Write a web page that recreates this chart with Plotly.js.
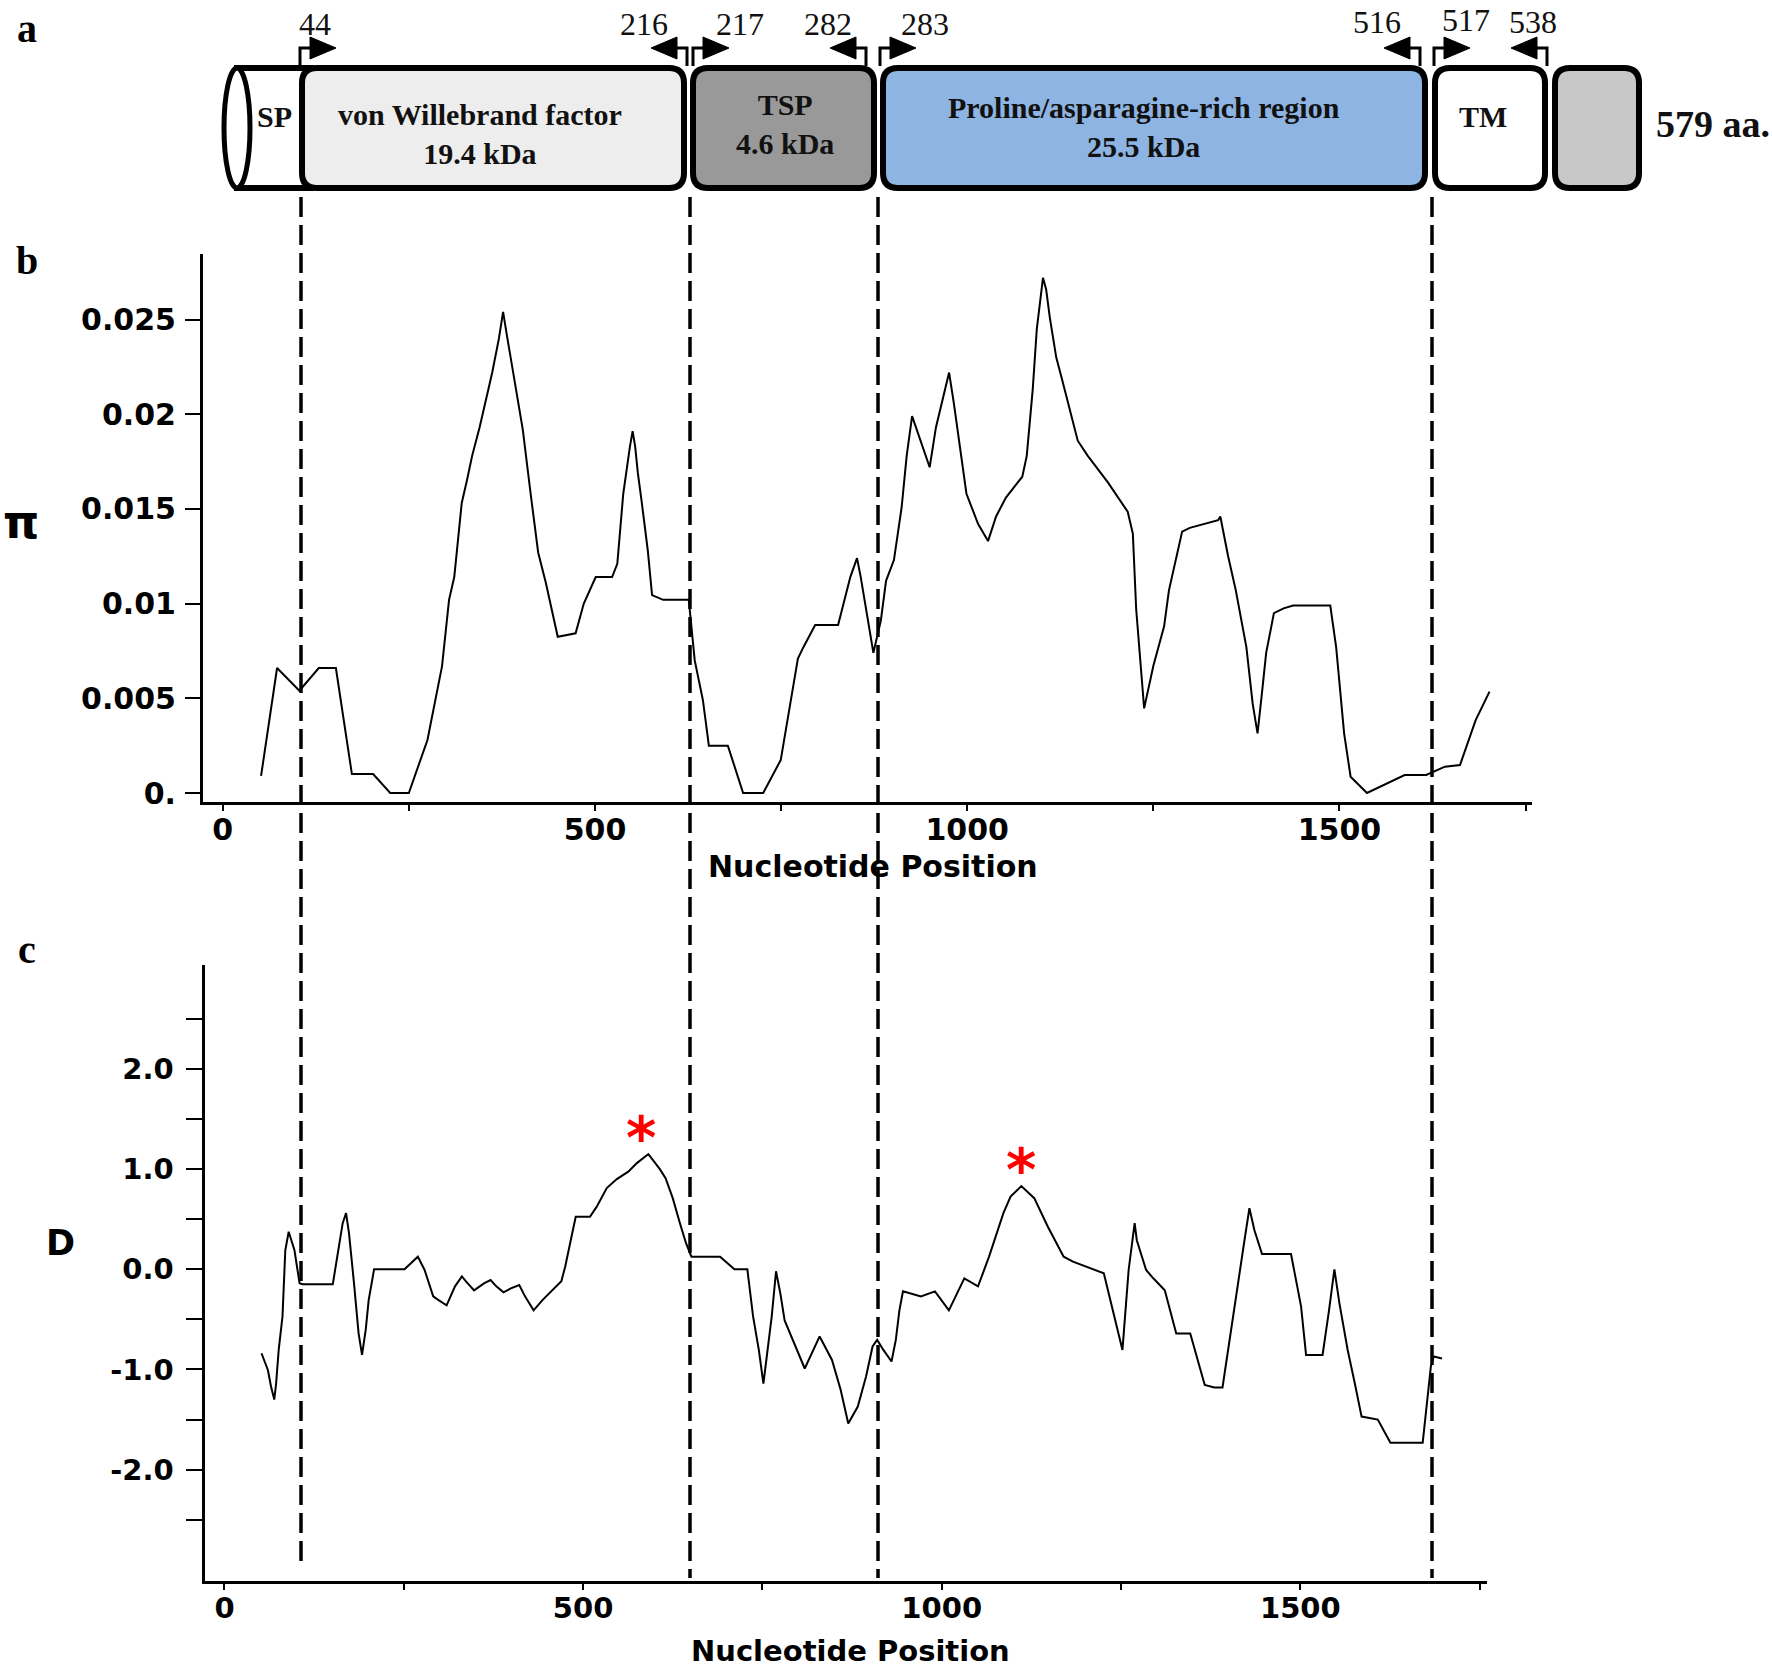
<!DOCTYPE html>
<html><head><meta charset="utf-8">
<script src="https://cdn.plot.ly/plotly-3.0.1.min.js"></script>
<style>html,body{margin:0;padding:0;background:#fff;} #chart{width:1772px;height:1670px;}</style>
</head><body><div id="chart"></div>
<script>
// ---------------- DATA ----------------
const piPosition = [51.5,73,103,129,152,173.5,202,225,250,275,294.6,304,311,321,328,335,345,362,371,376.6,382,390,403,413.6,423.7,434,450,474,485,501,523,530,538,547,550.6,554,557.6,563,571,576.7,591.6,626,634,645,653,678.5,699,726,749.5,761,772.6,780,795.8,826.6,843,852,857,874,884,891,901.6,912,918.7,926,937,949.6,958,968.8,975.7,982,990.6,999,1014.7,1028,1038.8,1052,1074,1080,1088,1093.5,1101.8,1106,1111,1119.6,1129,1138,1148.5,1162,1189,1215.6,1222.5,1227,1237.7,1250,1264.5,1271,1288.7,1299,1337,1340,1350.5,1360.8,1375,1383.5,1390,1396,1401.6,1412,1425,1437.8,1487.7,1495.6,1506.3,1515,1537,1587.6,1616.5,1641.7,1662,1683,1701.6];
const piValue = [0.0009,0.0066,0.0054,0.0066,0.0066,0.0010,0.0010,0.0,0.0,0.0028,0.0067,0.0102,0.0114,0.0153,0.0165,0.0178,0.0193,0.0222,0.0240,0.0254,0.0241,0.0222,0.0192,0.0158,0.0127,0.0111,0.00825,0.00843,0.0100,0.0114,0.0114,0.0121,0.0158,0.0183,0.0191,0.0183,0.0169,0.0153,0.0128,0.01045,0.0102,0.0102,0.0070,0.0049,0.0025,0.0025,0.0,0.0,0.00174,0.0044,0.0071,0.0077,0.00887,0.00887,0.0114,0.0124,0.0114,0.0074,0.0091,0.0112,0.0123,0.0151,0.0178,0.0199,0.0186,0.0172,0.0193,0.0211,0.0222,0.0206,0.0183,0.0158,0.0142,0.0133,0.0146,0.0156,0.0167,0.0178,0.0213,0.0245,0.0272,0.0266,0.0251,0.0230,0.0216,0.0202,0.0186,0.0178,0.0164,0.01485,0.0137,0.0097,0.00447,0.0067,0.0088,0.0107,0.0138,0.0140,0.0144,0.0146,0.0125,0.0107,0.0077,0.0047,0.00315,0.0053,0.0074,0.0095,0.00975,0.0099,0.0099,0.0077,0.00315,0.00086,0.0,0.00095,0.00095,0.00139,0.00148,0.00385,0.00535];

const dPosition = [51.6,60.5,64.9,69.4,72,75.6,80.9,84.8,89.5,93.5,97.6,104.7,108.8,151,159,164.8,169.5,173.6,180.6,187,191.8,197,201,208.6,251,269.6,279,291,299,309.7,321.4,331,336.7,348,361.8,371,379,389,399.3,411,419,431,443,459,469.7,475,483,489.7,509.6,519,533,547,563,575,591,607,615,625,635,643.5,651,691,711,729,737,745,751.4,763,769,775,781,794,809,829.8,847,859,869.7,883,894.5,903.6,910,918.7,930,936,941,946,971,990.6,1010,1031.5,1050.6,1066,1086,1096,1111,1129,1148,1170,1183,1226,1252,1260.6,1269,1272,1285,1295,1311,1327,1346.5,1366.7,1380,1391.5,1403,1411.7,1421.5,1429,1436,1446.6,1487,1501,1508,1531,1540,1547.5,1554.5,1566,1576,1585.4,1608,1625.6,1670.6,1676.7,1682,1686,1697.6];
const dValue = [-0.838,-1.005,-1.17,-1.30,-1.14,-0.805,-0.47,0.19,0.375,0.29,0.19,-0.14,-0.15,-0.15,0.19,0.46,0.56,0.36,-0.14,-0.64,-0.855,-0.6,-0.31,0.0,0.0,0.126,-0.007,-0.27,-0.31,-0.36,-0.17,-0.07,-0.12,-0.21,-0.14,-0.107,-0.17,-0.23,-0.19,-0.157,-0.27,-0.41,-0.31,-0.19,-0.12,0.026,0.29,0.525,0.525,0.625,0.81,0.90,0.975,1.06,1.15,1.0,0.91,0.71,0.46,0.26,0.126,0.126,0.0,0.0,-0.47,-0.805,-1.14,-0.47,-0.02,-0.24,-0.51,-0.74,-0.99,-0.67,-0.905,-1.2,-1.54,-1.37,-1.07,-0.77,-0.705,-0.805,-0.92,-0.705,-0.41,-0.22,-0.27,-0.22,-0.41,-0.09,-0.17,0.126,0.56,0.725,0.83,0.71,0.425,0.126,0.076,-0.04,-0.805,-0.007,0.46,0.29,-0.007,-0.09,-0.21,-0.64,-0.64,-1.155,-1.18,-1.18,-0.605,-0.21,0.26,0.61,0.39,0.153,0.153,-0.37,-0.855,-0.855,-0.41,0.0,-0.34,-0.805,-1.14,-1.47,-1.50,-1.73,-1.73,-1.30,-0.97,-0.87,-0.89];

const piTickVals = [0,0.005,0.01,0.015,0.02,0.025];
const piTickText = ['0.','0.005','0.01','0.015','0.02','0.025'];
const posTickVals = [0,250,500,750,1000,1250,1500,1750];
const posTickText = ['0','','500','','1000','','1500',''];
const dTickVals = [-2.5,-2,-1.5,-1,-0.5,0,0.5,1,1.5,2,2.5];
const dTickText = ['','-2.0','','-1.0','','0.0','','1.0','','2.0',''];

const domainLabels = ['SP','von Willebrand factor<br>19.4 kDa','TSP<br>4.6 kDa','Proline/asparagine-rich region<br>25.5 kDa','TM',''];
const boundaryLabels = ['44','216','217','282','283','516','517','538'];
const proteinLength = '579 aa.';
const starPositions = [591,1111];
const starValues = [1.15,0.83];

// ---------------- LAYOUT HELPERS ----------------
const W = 1772, H = 1670;
const px = x => x / W, py = y => 1 - y / H;

const boxTop = 68, boxBot = 188, rad = 15;
const boxGeom = [
  {x0:237, x1:301, fill:'#ffffff'},
  {x0:302, x1:684, fill:'#ededed'},
  {x0:693, x1:874, fill:'#999999'},
  {x0:883, x1:1425, fill:'#8db4e2'},
  {x0:1435, x1:1545, fill:'#ffffff'},
  {x0:1555, x1:1639, fill:'#c8c8c8'}
];
const labelGeom = [
  {x:274, y:117}, {x:480, y:134}, {x:785, y:124}, {x:1144, y:127}, {x:1483, y:117}, {x:1597, y:128}
];
const arrowGeom = [
  {vx:300, d:1, lx:315, ly:24},
  {vx:687, d:-1, lx:644, ly:24},
  {vx:693, d:1, lx:740, ly:24},
  {vx:866, d:-1, lx:828, ly:24},
  {vx:880, d:1, lx:925, ly:24},
  {vx:1420, d:-1, lx:1377, ly:22},
  {vx:1434, d:1, lx:1466, ly:20},
  {vx:1547, d:-1, lx:1533, ly:22}
];
const dashX = [301, 690, 878, 1432];

function rr(x0,y0,x1,y1,r){
  const P=(x,y)=>px(x)+','+py(y);
  return 'M'+P(x0+r,y0)+' L'+P(x1-r,y0)+' Q'+P(x1,y0)+' '+P(x1,y0+r)+
    ' L'+P(x1,y1-r)+' Q'+P(x1,y1)+' '+P(x1-r,y1)+' L'+P(x0+r,y1)+
    ' Q'+P(x0,y1)+' '+P(x0,y1-r)+' L'+P(x0,y0+r)+' Q'+P(x0,y0)+' '+P(x0+r,y0)+' Z';
}

const shapes = [];
const annotations = [];
const BW = 6;
shapes.push({type:'rect', xref:'paper', yref:'paper', x0:px(boxGeom[0].x0), x1:px(boxGeom[0].x1+10), y0:py(boxBot), y1:py(boxTop),
  fillcolor:boxGeom[0].fill, line:{color:'#000', width:BW}});
shapes.push({type:'circle', xref:'paper', yref:'paper', x0:px(224), x1:px(250), y0:py(boxBot), y1:py(boxTop),
  fillcolor:'#ffffff', line:{color:'#000', width:BW-1}});
for(let i=1;i<boxGeom.length;i++){
  const b=boxGeom[i];
  shapes.push({type:'path', xref:'paper', yref:'paper', path:rr(b.x0,boxTop,b.x1,boxBot,rad),
    fillcolor:b.fill, line:{color:'#000', width:BW}});
}
domainLabels.forEach((t,i)=>{
  if(!t) return;
  annotations.push({xref:'paper', yref:'paper', x:px(labelGeom[i].x), y:py(labelGeom[i].y), text:'<b>'+t+'</b>',
    showarrow:false, xanchor:'center', yanchor:'middle',
    font:{family:'Liberation Serif, Times New Roman, serif', size:30, color:'#111'}});
});
annotations.push({xref:'paper', yref:'paper', x:px(1713), y:py(124), text:'<b>'+proteinLength+'</b>', showarrow:false,
  xanchor:'center', yanchor:'middle', font:{family:'Liberation Serif, Times New Roman, serif', size:38, color:'#111'}});

const ah = 48;
boundaryLabels.forEach((t,i)=>{
  const a = arrowGeom[i];
  shapes.push({type:'path', xref:'paper', yref:'paper',
    path:'M'+px(a.vx)+','+py(boxTop-2)+' L'+px(a.vx)+','+py(ah)+' L'+px(a.vx+a.d*12)+','+py(ah),
    line:{color:'#000', width:3}});
  shapes.push({type:'path', xref:'paper', yref:'paper',
    path:'M'+px(a.vx+a.d*10)+','+py(ah-11)+' L'+px(a.vx+a.d*36)+','+py(ah)+' L'+px(a.vx+a.d*10)+','+py(ah+11)+' Z',
    fillcolor:'#000', line:{color:'#000', width:1}});
  annotations.push({xref:'paper', yref:'paper', x:px(a.lx), y:py(a.ly), text:t, showarrow:false,
    xanchor:'center', yanchor:'middle', font:{family:'Liberation Serif, Times New Roman, serif', size:32, color:'#111'}});
});

dashX.forEach((x,i)=>{
  shapes.push({type:'line', xref:'paper', yref:'paper', x0:px(x), x1:px(x), y0:py(197), y1:py(i===0?1567:1578),
    line:{color:'#000', width:3.5, dash:'20px,8px'}});
});

[['a',28],['b',260],['c',949]].forEach(([t,y])=>{
  annotations.push({xref:'paper', yref:'paper', x:px(27), y:py(y), text:'<b>'+t+'</b>', showarrow:false,
    xanchor:'center', yanchor:'middle', font:{family:'Liberation Serif, Times New Roman, serif', size:40, color:'#000'}});
});

const tickFontB = {family:'DejaVu Sans, Verdana, sans-serif', size:30, color:'#000', weight:'bold'};
const tickFontC = {family:'DejaVu Sans, Verdana, sans-serif', size:29, color:'#000', weight:'bold'};
const titleFont = {family:'DejaVu Sans, Verdana, sans-serif', size:30, color:'#000', weight:'bold'};

annotations.push({xref:'paper', yref:'paper', x:px(873), y:py(867), text:'<b>Nucleotide Position</b>', showarrow:false,
  xanchor:'center', yanchor:'middle', font:titleFont});
annotations.push({xref:'paper', yref:'paper', x:px(850), y:py(1651), text:'<b>Nucleotide Position</b>', showarrow:false,
  xanchor:'center', yanchor:'middle', font:{family:titleFont.family, size:29, color:'#000', weight:'bold'}});
annotations.push({xref:'paper', yref:'paper', x:px(21), y:py(522), text:'<b>π</b>', showarrow:false,
  xanchor:'center', yanchor:'middle', font:{family:'DejaVu Sans, sans-serif', size:46, color:'#000'}});
annotations.push({xref:'paper', yref:'paper', x:px(60), y:py(1243), text:'<b>D</b>', showarrow:false,
  xanchor:'center', yanchor:'middle', font:{family:'DejaVu Sans, sans-serif', size:35, color:'#000'}});

starPositions.forEach((x,i)=>{
  annotations.push({xref:'x2', yref:'y2', x:x, y:starValues[i], text:'<b>*</b>', showarrow:false,
    xanchor:'center', yanchor:'bottom', yshift:-20, xshift:i===0?-7:0,
    font:{family:'DejaVu Sans, sans-serif', size:58, color:'#ff0000'}});
});

const traces = [
  {x:piPosition, y:piValue, type:'scatter', mode:'lines', line:{color:'#000', width:2}, xaxis:'x', yaxis:'y', hoverinfo:'skip'},
  {x:dPosition, y:dValue, type:'scatter', mode:'lines', line:{color:'#000', width:2}, xaxis:'x2', yaxis:'y2', hoverinfo:'skip'}
];

const axCommon = {showline:true, linecolor:'#000', linewidth:3, ticks:'outside', tickcolor:'#000', tickwidth:2,
  showgrid:false, zeroline:false, fixedrange:true, automargin:false};

const layout = {
  width:W, height:H, margin:{l:0,r:0,t:0,b:0}, paper_bgcolor:'#fff', plot_bgcolor:'#fff', showlegend:false,
  xaxis: Object.assign({}, axCommon, {domain:[px(203), px(1531.5)], range:[-26.5,1758], anchor:'y', tickfont:tickFontB,
    tickmode:'array', tickvals:posTickVals, ticktext:posTickText, ticklen:6, ticklabelstandoff:-7}),
  yaxis: Object.assign({}, axCommon, {domain:[py(802), py(254)], range:[-0.000475,0.028458], anchor:'x', tickfont:tickFontB,
    tickmode:'array', tickvals:piTickVals, ticktext:piTickText, ticklen:15, ticklabelstandoff:3}),
  xaxis2: Object.assign({}, axCommon, {domain:[px(205.4), px(1486.6)], range:[-26.6,1759.7], anchor:'y2', tickfont:tickFontC,
    tickmode:'array', tickvals:posTickVals, ticktext:posTickText, ticklen:6, ticklabelstandoff:-7}),
  yaxis2: Object.assign({}, axCommon, {domain:[py(1581), py(965)], range:[-3.111,3.037], anchor:'x2', tickfont:tickFontC,
    tickmode:'array', tickvals:dTickVals, ticktext:dTickText, ticklen:16, ticklabelstandoff:7}),
  shapes: shapes,
  annotations: annotations
};

Plotly.newPlot('chart', traces, layout, {displayModeBar:false, staticPlot:true});
</script>
</body></html>
